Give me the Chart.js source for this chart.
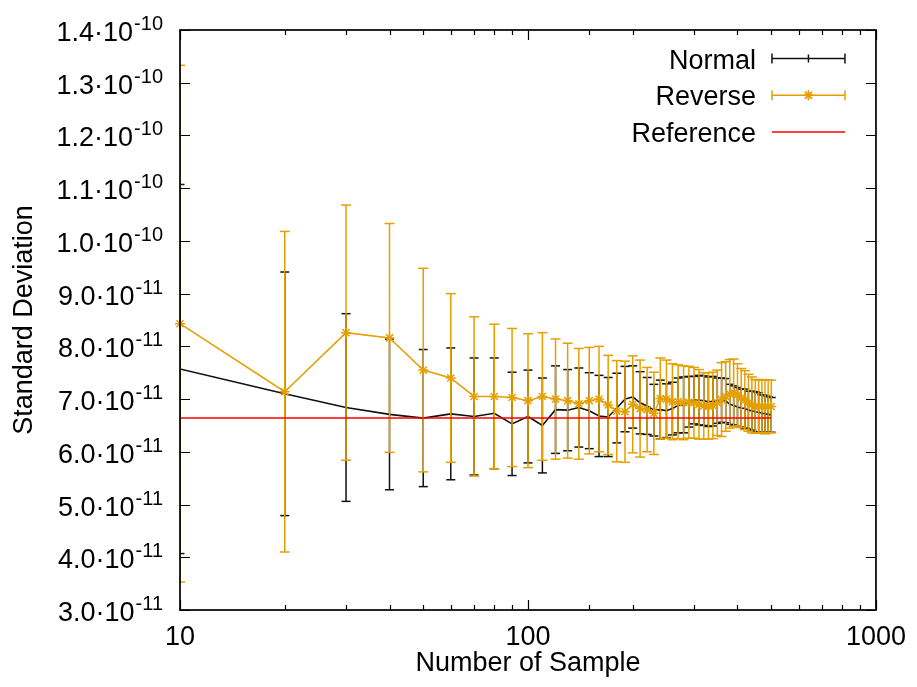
<!DOCTYPE html>
<html>
<head>
<meta charset="utf-8">
<script src="https://cdn.jsdelivr.net/npm/chart.js@4.4.0/dist/chart.umd.min.js"></script>
<style>
html, body { margin: 0; padding: 0; background: #fff; }
</style>
</head>
<body>
<canvas id="chart" width="917" height="687"></canvas>
<script>
// sample counts (x)
const samples = [10, 20, 30, 40, 50, 60, 70, 80, 90, 100,
    110, 120, 130, 140, 150, 160, 170, 180, 190, 200,
    210, 220, 230, 240, 250, 260, 270, 280, 290, 300,
    310, 320, 330, 340, 350, 360, 370, 380, 390, 400,
    410, 420, 430, 440, 450, 460, 470, 480, 490, 500];

// Normal: mean and error
const normalMean = [7.57e-11, 7.10e-11, 6.84e-11, 6.71e-11, 6.64e-11, 6.72e-11, 6.67e-11, 6.73e-11, 6.53e-11, 6.67e-11,
    6.50e-11, 6.80e-11, 6.79e-11, 6.84e-11, 6.78e-11, 6.68e-11, 6.66e-11, 6.83e-11, 7.00e-11, 7.04e-11,
    6.93e-11, 6.87e-11, 6.79e-11, 6.80e-11, 6.78e-11, 6.82e-11, 6.88e-11, 6.89e-11, 6.95e-11, 6.98e-11,
    6.98e-11, 6.97e-11, 6.95e-11, 6.96e-11, 6.97e-11, 6.98e-11, 6.97e-11, 6.90e-11, 6.88e-11, 6.85e-11,
    6.83e-11, 6.82e-11, 6.79e-11, 6.78e-11, 6.76e-11, 6.75e-11, 6.73e-11, 6.72e-11, 6.71e-11, 6.70e-11];
const normalErr = [3.50e-11, 2.31e-11, 1.78e-11, 1.43e-11, 1.30e-11, 1.25e-11, 1.11e-11, 1.05e-11, 0.98e-11, 0.88e-11,
    0.90e-11, 0.83e-11, 0.77e-11, 0.75e-11, 0.72e-11, 0.77e-11, 0.75e-11, 0.66e-11, 0.62e-11, 0.59e-11,
    0.59e-11, 0.54e-11, 0.49e-11, 0.56e-11, 0.51e-11, 0.50e-11, 0.52e-11, 0.53e-11, 0.48e-11, 0.45e-11,
    0.47e-11, 0.47e-11, 0.47e-11, 0.47e-11, 0.43e-11, 0.42e-11, 0.42e-11, 0.38e-11, 0.37e-11, 0.37e-11,
    0.36e-11, 0.37e-11, 0.36e-11, 0.37e-11, 0.38e-11, 0.37e-11, 0.35e-11, 0.35e-11, 0.34e-11, 0.33e-11];

// Reverse: mean and error
const reverseMean = [8.43e-11, 7.14e-11, 8.26e-11, 8.16e-11, 7.55e-11, 7.40e-11, 7.05e-11, 7.05e-11, 7.03e-11, 6.97e-11,
    7.05e-11, 7.00e-11, 6.97e-11, 6.91e-11, 6.97e-11, 7.00e-11, 6.89e-11, 6.77e-11, 6.76e-11, 6.90e-11,
    6.82e-11, 6.80e-11, 6.73e-11, 7.01e-11, 7.00e-11, 6.95e-11, 6.95e-11, 6.93e-11, 6.94e-11, 6.93e-11,
    6.90e-11, 6.87e-11, 6.87e-11, 6.88e-11, 6.93e-11, 6.99e-11, 7.05e-11, 7.10e-11, 7.12e-11, 7.08e-11,
    7.02e-11, 6.98e-11, 6.93e-11, 6.89e-11, 6.86e-11, 6.86e-11, 6.87e-11, 6.85e-11, 6.86e-11, 6.86e-11];
const reverseErr = [4.90e-11, 3.04e-11, 2.42e-11, 2.17e-11, 1.93e-11, 1.60e-11, 1.51e-11, 1.37e-11, 1.31e-11, 1.27e-11,
    1.21e-11, 1.14e-11, 1.09e-11, 1.05e-11, 1.01e-11, 1.00e-11, 0.94e-11, 0.96e-11, 0.96e-11, 0.92e-11,
    0.92e-11, 0.80e-11, 0.78e-11, 0.77e-11, 0.74e-11, 0.72e-11, 0.70e-11, 0.70e-11, 0.68e-11, 0.67e-11,
    0.66e-11, 0.63e-11, 0.63e-11, 0.63e-11, 0.62e-11, 0.70e-11, 0.66e-11, 0.65e-11, 0.64e-11, 0.59e-11,
    0.56e-11, 0.56e-11, 0.54e-11, 0.53e-11, 0.51e-11, 0.50e-11, 0.50e-11, 0.51e-11, 0.50e-11, 0.50e-11];

// Reference line
const referenceX = [10, 500];
const referenceY = [6.64e-11, 6.64e-11];

// tick labels
const xTickLabels = ['10', '100', '1000'];
const yTickMantissa = ['3.0', '4.0', '5.0', '6.0', '7.0', '8.0', '9.0', '1.0', '1.1', '1.2', '1.3', '1.4'];
const yTickExponent = ['-11', '-11', '-11', '-11', '-11', '-11', '-11', '-10', '-10', '-10', '-10', '-10'];

const BLACK = '#111111';
const ORANGE = '#e69f00';
const RED = '#ff0000';
const FONT = 'Liberation Sans, Arial, sans-serif';

// vertical error bar segments, broken by null
function errorBars(mean, err) {
    const pts = [];
    samples.forEach((x, i) => {
        pts.push({x: x, y: mean[i] - err[i]});
        pts.push({x: x, y: mean[i] + err[i]});
        pts.push({x: x, y: null});
    });
    return pts;
}

function meanPoints(mean) {
    return samples.map((x, i) => ({x: x, y: mean[i]}));
}

// gnuplot style frame, inward ticks, y labels with superscript, legend
const gnuplotFrame = {
    id: 'gnuplotFrame',
    afterDraw(chart) {
        const ctx = chart.ctx;
        const a = chart.chartArea;
        const xs = chart.scales.x;
        const ys = chart.scales.y;
        ctx.save();
        ctx.strokeStyle = '#000';
        ctx.lineWidth = 1.7;
        ctx.strokeRect(a.left, a.top, a.right - a.left, a.bottom - a.top);
        ctx.lineWidth = 1.2;

        // y ticks + labels
        ctx.fillStyle = '#000';
        ys.ticks.forEach((t, i) => {
            const py = Math.round(ys.getPixelForValue(t.value)) + 0.5;
            ctx.beginPath();
            ctx.moveTo(a.left, py); ctx.lineTo(a.left + 10, py);
            ctx.moveTo(a.right, py); ctx.lineTo(a.right - 10, py);
            ctx.stroke();
            const right = a.left - 17;
            ctx.textAlign = 'right';
            ctx.textBaseline = 'alphabetic';
            ctx.font = '20px ' + FONT;
            const sup = yTickExponent[i];
            const supW = ctx.measureText(sup).width;
            ctx.fillText(sup, right, py - 1);
            ctx.font = '27px ' + FONT;
            ctx.fillText(yTickMantissa[i] + '\u00b710', right - supW - 1, py + 10);
        });

        // x ticks (major at decades, minor otherwise)
        xs.ticks.forEach(t => {
            const px = Math.round(xs.getPixelForValue(t.value)) + 0.5;
            const lg = Math.log10(t.value);
            const len = Math.abs(lg - Math.round(lg)) < 1e-9 ? 10 : 5;
            ctx.beginPath();
            ctx.moveTo(px, a.bottom); ctx.lineTo(px, a.bottom - len);
            ctx.moveTo(px, a.top); ctx.lineTo(px, a.top + len);
            ctx.stroke();
        });

        // legend
        const sampleEnd = a.right - 31;
        const sampleStart = sampleEnd - 73;
        const textRight = sampleStart - 16;
        const items = [
            {label: 'Normal', color: BLACK, bars: true, mark: 'tick'},
            {label: 'Reverse', color: ORANGE, bars: true, mark: 'star'},
            {label: 'Reference', color: RED, bars: false, mark: null}
        ];
        items.forEach((it, i) => {
            const cy = a.top + 28.5 + i * 36.7;
            ctx.font = '27px ' + FONT;
            ctx.fillStyle = '#000';
            ctx.textAlign = 'right';
            ctx.textBaseline = 'alphabetic';
            ctx.fillText(it.label, textRight, cy + 10);
            ctx.strokeStyle = it.color;
            ctx.lineWidth = 1.5;
            ctx.beginPath();
            ctx.moveTo(sampleStart, cy); ctx.lineTo(sampleEnd, cy);
            if (it.bars) {
                ctx.moveTo(sampleStart, cy - 5); ctx.lineTo(sampleStart, cy + 5);
                ctx.moveTo(sampleEnd, cy - 5); ctx.lineTo(sampleEnd, cy + 5);
            }
            const mid = (sampleStart + sampleEnd) / 2;
            if (it.mark === 'tick') {
                ctx.moveTo(mid, cy - 4); ctx.lineTo(mid, cy + 4);
            }
            ctx.stroke();
            if (it.mark === 'star') {
                Chart.helpers.drawPoint(ctx, {pointStyle: 'star', radius: 5, borderWidth: 1.5}, mid, cy);
                ctx.stroke();
            }
        });
        ctx.restore();
    }
};

const chart = new Chart(document.getElementById('chart'), {
    type: 'line',
    data: {
        datasets: [
            {
                label: 'Reference',
                data: referenceX.map((x, i) => ({x: x, y: referenceY[i]})),
                borderColor: RED,
                borderWidth: 1.5,
                pointRadius: 0,
                order: 0
            },
            {
                label: 'Reverse',
                data: meanPoints(reverseMean),
                borderColor: ORANGE,
                borderWidth: 1.5,
                pointStyle: 'star',
                pointRadius: 5,
                pointBorderColor: ORANGE,
                pointBorderWidth: 1.5,
                order: 1,
                clip: false
            },
            {
                label: 'Reverse error',
                data: errorBars(reverseMean, reverseErr),
                borderColor: ORANGE,
                borderWidth: 1.5,
                spanGaps: false,
                pointStyle: 'line',
                pointRadius: 5,
                pointBorderColor: ORANGE,
                pointBorderWidth: 1.5,
                order: 2
            },
            {
                label: 'Normal',
                data: meanPoints(normalMean),
                borderColor: BLACK,
                borderWidth: 1.6,
                pointRadius: 0,
                order: 3
            },
            {
                label: 'Normal error',
                data: errorBars(normalMean, normalErr),
                borderColor: BLACK,
                borderWidth: 1.5,
                spanGaps: false,
                pointStyle: 'line',
                pointRadius: 4.5,
                pointBorderColor: BLACK,
                pointBorderWidth: 1.5,
                order: 4
            }
        ]
    },
    options: {
        responsive: false,
        animation: false,
        devicePixelRatio: 1,
        layout: {padding: {left: 0, right: 37, top: 30, bottom: 0}},
        plugins: {
            legend: {display: false},
            tooltip: {enabled: false}
        },
        elements: {line: {tension: 0}},
        scales: {
            x: {
                type: 'logarithmic',
                min: 10,
                max: 1000,
                grid: {display: false, drawTicks: false},
                border: {display: false},
                ticks: {
                    autoSkip: false,
                    maxRotation: 0,
                    padding: 11,
                    color: '#000',
                    font: {family: FONT, size: 27},
                    callback: (v) => xTickLabels.includes(String(v)) ? String(v) : ''
                },
                title: {
                    display: true,
                    text: 'Number of Sample',
                    color: '#000',
                    font: {family: FONT, size: 27},
                    padding: {top: 0, bottom: 7}
                },
                afterFit: (s) => { s.height = 77; }
            },
            y: {
                type: 'linear',
                min: 3e-11,
                max: 1.4e-10,
                grid: {display: false, drawTicks: false},
                border: {display: false},
                ticks: {display: false, stepSize: 1e-11},
                title: {
                    display: true,
                    text: 'Standard Deviation',
                    color: '#000',
                    font: {family: FONT, size: 27},
                    padding: {top: 8, bottom: 0}
                },
                afterFit: (s) => { s.width = 180; }
            }
        }
    },
    plugins: [gnuplotFrame]
});
</script>
</body>
</html>
